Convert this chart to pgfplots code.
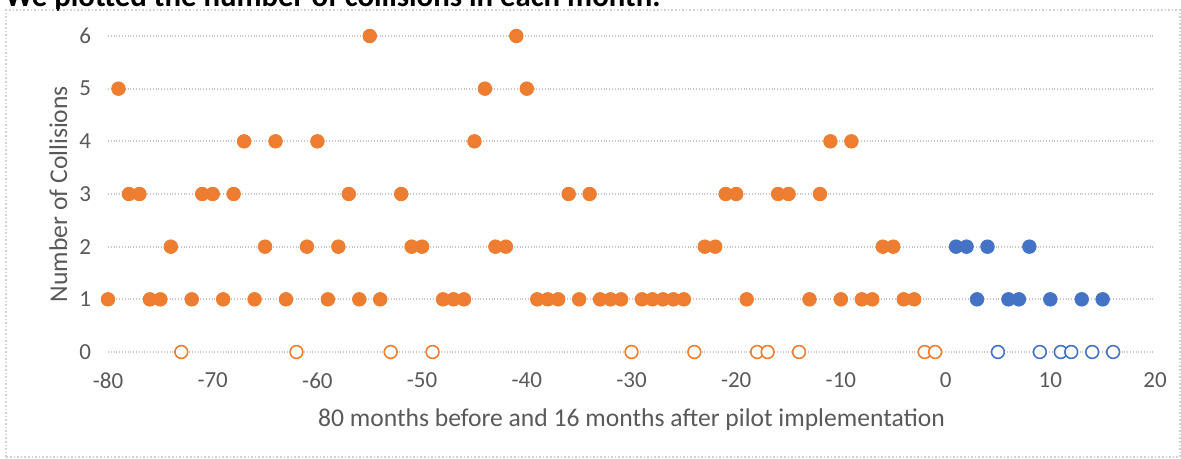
\documentclass[border=0pt]{standalone}
\usepackage{pgfplots}
\pgfplotsset{compat=1.18}
\usepackage{fontspec}
\setmainfont{Carlito}
\definecolor{xlorange}{HTML}{ED7D31}
\definecolor{xlblue}{HTML}{4472C4}
\definecolor{txtgray}{HTML}{595959}
\definecolor{gridgray}{HTML}{C8C8C8}

\pgfplotstableread{
x y
-55 6
-41 6
-79 5
-44 5
-40 5
-67 4
-64 4
-60 4
-45 4
-11 4
-9 4
-78 3
-77 3
-71 3
-70 3
-68 3
-57 3
-52 3
-36 3
-34 3
-21 3
-20 3
-16 3
-15 3
-12 3
-74 2
-65 2
-61 2
-58 2
-51 2
-50 2
-43 2
-42 2
-23 2
-22 2
-6 2
-5 2
-80 1
-76 1
-75 1
-72 1
-69 1
-66 1
-63 1
-59 1
-56 1
-54 1
-48 1
-47 1
-46 1
-39 1
-38 1
-37 1
-35 1
-33 1
-32 1
-31 1
-29 1
-28 1
-27 1
-26 1
-25 1
-19 1
-13 1
-10 1
-8 1
-7 1
-4 1
-3 1
}\beforetable

\pgfplotstableread{
x y
-73 0
-62 0
-53 0
-49 0
-30 0
-24 0
-18 0
-17 0
-14 0
-2 0
-1 0
}\beforezero

\pgfplotstableread{
x y
1 2
2 2
4 2
8 2
3 1
6 1
7 1
10 1
13 1
15 1
}\aftertable

\pgfplotstableread{
x y
5 0
9 0
11 0
12 0
14 0
16 0
}\afterzero

\begin{document}
\begin{tikzpicture}[x=1pt,y=1pt]
\node[anchor=base west, font=\fontsize{15.4}{17}\selectfont\bfseries, text=black] at (-1pt,226pt) {We plotted the number of collisions in each month.};
\draw[gray!35, densely dotted, line width=0.8pt] (3pt,1pt) rectangle (590pt,224.5pt);
\begin{axis}[
  at={(54pt,53.5pt)}, anchor=south west,
  scale only axis, width=523.5pt, height=158pt,
  xmin=-80, xmax=20, ymin=0, ymax=6,
  xtick={-80,-70,...,20}, ytick={0,1,...,6},
  axis line style={draw=none},
  major tick length=0pt,
  tick style={draw=none},
  ymajorgrids,
  grid style={gridgray, densely dotted, line width=0.9pt},
  tick label style={font=\fontsize{11.5}{13}\selectfont, text=txtgray},
  /pgf/number format/assume math mode=true,
  xticklabel style={yshift=-7pt},
  yticklabel style={xshift=-5pt},
  xlabel={80 months before and 16 months after pilot implementation},
  ylabel={Number of Collisions},
  label style={font=\fontsize{12.8}{14}\selectfont, text=txtgray},
  xlabel style={at={(axis description cs:0.5,-0.215)}, anchor=center},
  ylabel style={at={(axis description cs:-0.0475,0.5)}, anchor=center},
  clip=false,
]
\addplot[only marks, mark=*, mark size=3.4pt, mark options={draw=xlorange, fill=xlorange}] table {\beforetable};
\addplot[only marks, mark=*, mark size=3.2pt, mark options={draw=xlorange, fill=white, line width=0.8pt}] table {\beforezero};
\addplot[only marks, mark=*, mark size=3.4pt, mark options={draw=xlblue, fill=xlblue}] table {\aftertable};
\addplot[only marks, mark=*, mark size=3.2pt, mark options={draw=xlblue, fill=white, line width=0.8pt}] table {\afterzero};
\end{axis}
\pgfresetboundingbox
\useasboundingbox (0,0) rectangle (590.5pt,229.5pt);
\end{tikzpicture}
\end{document}
